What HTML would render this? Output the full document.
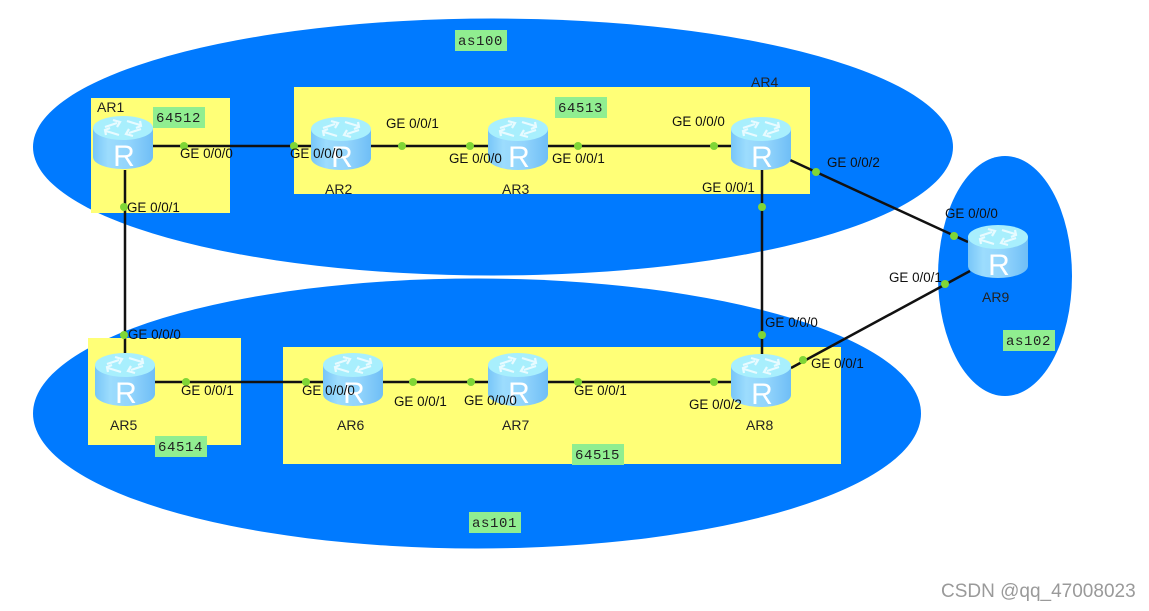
<!DOCTYPE html>
<html><head><meta charset="utf-8"><style>
html,body{margin:0;padding:0;background:#fff;width:1149px;height:611px;overflow:hidden}
svg{display:block}
.l{font:13.4px "Liberation Sans",sans-serif;fill:#111}
.n{font:14px "Liberation Sans",sans-serif;fill:#222}
.m{font:14px "Liberation Mono",monospace;fill:#222;letter-spacing:.6px}
.r{font:30px "Liberation Sans",sans-serif;fill:#fff}
</style></head><body>
<svg width="1149" height="611" viewBox="0 0 1149 611" xmlns="http://www.w3.org/2000/svg">
<defs>
<linearGradient id="b" x1="0" x2="1" y1="0" y2="0"><stop offset="0" stop-color="#78c6f8"/><stop offset=".25" stop-color="#9cdcfd"/><stop offset=".6" stop-color="#92d4fc"/><stop offset="1" stop-color="#6fbef6"/></linearGradient>
<g id="rt">
<path d="M0 12V41A30 12 0 0 0 60 41V12Z" fill="url(#b)"/>
<ellipse cx="30" cy="12" rx="30" ry="12" fill="#a8effd"/>
<g stroke="#e8fbff" stroke-width="2.200" fill="none"><path d="M12 11L24 7M20 4L27 6L24 11"/><path d="M48 13L36 17M40 20L33 18L36 13"/><path d="M34 5L47 9M47 5L48 10L43 12"/><path d="M26 19L13 15M13 19L12 14L17 12"/></g>
</g>
</defs>
<ellipse cx="493" cy="147" rx="460" ry="128.500" fill="#007aff"/>
<ellipse cx="477" cy="413.500" rx="444" ry="135" fill="#007aff"/>
<ellipse cx="1005" cy="276" rx="67" ry="120" fill="#007aff"/>
<g fill="#ffff77">
<rect x="91" y="98" width="139" height="115"/>
<rect x="294" y="87" width="516" height="107"/>
<rect x="88" y="338" width="153" height="107"/>
<rect x="283" y="347" width="558" height="117"/>
</g>
<g fill="#90ee90">
<rect x="455" y="30" width="52" height="21"/>
<rect x="153" y="107" width="52" height="21"/>
<rect x="555" y="97" width="52" height="21"/>
<rect x="155" y="436" width="52" height="21"/>
<rect x="572" y="444" width="52" height="21"/>
<rect x="469" y="512" width="52" height="21"/>
<rect x="1003" y="330" width="52" height="21"/>
</g>
<g>
<text class="m" x="458" y="45">as100</text>
<text class="m" x="156" y="122">64512</text>
<text class="m" x="558" y="112">64513</text>
<text class="m" x="158" y="451">64514</text>
<text class="m" x="575" y="459">64515</text>
<text class="m" x="472" y="527">as101</text>
<text class="m" x="1006" y="345">as102</text>
</g>
<g stroke="#111" stroke-width="2.500" fill="none">
<path d="M153 146H311M371 146H488M548 146H731"/>
<path d="M125 170V353M762 170V354"/>
<path d="M790 160L968 242M791 368L970 271"/>
<path d="M155 382H323M383 382H488M548 382H731"/>
</g>
<g fill="#80d636">
<circle cx="184" cy="146" r="4"/><circle cx="294" cy="146" r="4"/><circle cx="402" cy="146" r="4"/><circle cx="470" cy="146" r="4"/><circle cx="578" cy="146" r="4"/><circle cx="714" cy="146" r="4"/>
<circle cx="816" cy="172" r="4"/><circle cx="762" cy="207" r="4"/><circle cx="954" cy="236" r="4"/><circle cx="945" cy="284" r="4"/><circle cx="762" cy="335" r="4"/><circle cx="803" cy="360" r="4"/>
<circle cx="124" cy="207" r="4"/><circle cx="124" cy="335" r="4"/>
<circle cx="186" cy="382" r="4"/><circle cx="306" cy="382" r="4"/><circle cx="413" cy="382" r="4"/><circle cx="471" cy="382" r="4"/><circle cx="578" cy="382" r="4"/><circle cx="714" cy="382" r="4"/>
</g>
<use href="#rt" x="93" y="116"/><use href="#rt" x="311" y="117"/><use href="#rt" x="488" y="117"/><use href="#rt" x="731" y="117"/>
<use href="#rt" x="95" y="353"/><use href="#rt" x="323" y="353"/><use href="#rt" x="488" y="353"/><use href="#rt" x="731" y="354"/><use href="#rt" x="968" y="225"/>
<g text-anchor="middle">
<text class="r" x="124" y="166">R</text><text class="r" x="342" y="167">R</text><text class="r" x="519" y="167">R</text><text class="r" x="762" y="167">R</text>
<text class="r" x="126" y="403">R</text><text class="r" x="354" y="403">R</text><text class="r" x="519" y="403">R</text><text class="r" x="762" y="404">R</text><text class="r" x="999" y="275">R</text>
</g>
<g>
<text class="n" x="97" y="112">AR1</text><text class="n" x="325" y="194">AR2</text><text class="n" x="502" y="194">AR3</text><text class="n" x="751" y="87">AR4</text>
<text class="n" x="110" y="430">AR5</text><text class="n" x="337" y="430">AR6</text><text class="n" x="502" y="430">AR7</text><text class="n" x="746" y="430">AR8</text><text class="n" x="982" y="302">AR9</text>
</g>
<g>
<text class="l" x="180" y="158">GE 0/0/0</text><text class="l" x="290" y="158">GE 0/0/0</text><text class="l" x="386" y="128">GE 0/0/1</text><text class="l" x="449" y="163">GE 0/0/0</text><text class="l" x="552" y="163">GE 0/0/1</text><text class="l" x="672" y="126">GE 0/0/0</text>
<text class="l" x="827" y="167">GE 0/0/2</text><text class="l" x="702" y="192">GE 0/0/1</text><text class="l" x="127" y="212">GE 0/0/1</text><text class="l" x="945" y="218">GE 0/0/0</text><text class="l" x="889" y="282">GE 0/0/1</text>
<text class="l" x="765" y="327">GE 0/0/0</text><text class="l" x="811" y="368">GE 0/0/1</text><text class="l" x="128" y="339">GE 0/0/0</text>
<text class="l" x="181" y="395">GE 0/0/1</text><text class="l" x="302" y="395">GE 0/0/0</text><text class="l" x="394" y="406">GE 0/0/1</text><text class="l" x="464" y="405">GE 0/0/0</text><text class="l" x="574" y="395">GE 0/0/1</text><text class="l" x="689" y="409">GE 0/0/2</text>
</g>
<text x="941" y="597" style="font:19px 'Liberation Sans',sans-serif;fill:#9a9a9a">CSDN @qq_47008023</text>
</svg>
</body></html>
